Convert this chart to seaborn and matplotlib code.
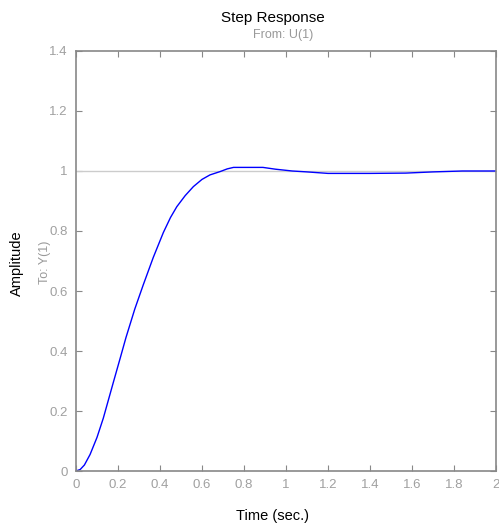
import numpy as np
import pandas as pd
import matplotlib
matplotlib.use('Agg')
import matplotlib.pyplot as plt
import seaborn as sns

# step response
time = [0.0, 0.02, 0.04, 0.067, 0.10, 0.13, 0.178, 0.21, 0.238, 0.28, 0.32,
        0.368, 0.416, 0.45, 0.48, 0.52, 0.559, 0.60, 0.638, 0.686, 0.72, 0.75,
        0.89, 0.95, 1.03, 1.10, 1.20, 1.40, 1.57, 1.70, 1.84, 2.0]
amplitude = [0.0, 0.005, 0.02, 0.055, 0.112, 0.176, 0.296, 0.375, 0.445,
             0.54, 0.62, 0.712, 0.795, 0.845, 0.881, 0.918, 0.948, 0.972,
             0.987, 0.998, 1.007, 1.012, 1.012, 1.006, 1.0, 0.997, 0.992,
             0.992, 0.993, 0.997, 1.0, 1.0]
xticks = [0, 0.2, 0.4, 0.6, 0.8, 1, 1.2, 1.4, 1.6, 1.8, 2]
yticks = [0, 0.2, 0.4, 0.6, 0.8, 1, 1.2, 1.4]

df = pd.DataFrame({'Time': time, 'Amplitude': amplitude})

sns.set_style('white')
plt.rcParams['font.family'] = ['Liberation Sans Narrow', 'Liberation Sans', 'DejaVu Sans']

fig = plt.figure(figsize=(4.99, 5.27), dpi=100)
ax = fig.add_axes([76 / 499, 56 / 527, 420 / 499, 420 / 527])

ax.axhline(1, color='#cccccc', linewidth=1, zorder=1)
sns.lineplot(data=df, x='Time', y='Amplitude', color='#0000ff', linewidth=1,
             sort=False, ax=ax, zorder=2)

ax.set_xlim(0, 2)
ax.set_ylim(0, 1.4)
ax.set_xticks(xticks)
ax.set_xticklabels([f'{v:g}' for v in xticks])
ax.set_yticks(yticks)
ax.set_yticklabels([f'{v:g}' for v in yticks])
ax.tick_params(direction='in', length=4, width=0.8, color='#888888',
               labelcolor='#a0a0a0', labelsize=9.5, top=True, right=True,
               bottom=True, left=True, pad=6)
for s in ax.spines.values():
    s.set_color('#888888')
    s.set_linewidth(1.2)
ax.set_xlabel('')
ax.set_ylabel('')

fig.text(273 / 499, 1 - 18 / 527, 'Step Response', ha='center', va='center',
         fontsize=11, color='black')
fig.text(283 / 499, 1 - 35 / 527, 'From: U(1)', ha='center', va='center',
         fontsize=9, color='#999999')
fig.text(272 / 499, 1 - 516 / 527, 'Time (sec.)', ha='center', va='center',
         fontsize=10.5, color='black')
fig.text(17 / 499, 1 - 263 / 527, 'Amplitude', ha='center', va='center',
         rotation=90, fontsize=10.5, color='black')
fig.text(45 / 499, 1 - 262 / 527, 'To: Y(1)', ha='center', va='center',
         rotation=90, fontsize=9, color='#999999')

fig.savefig('out.png', dpi=100)
